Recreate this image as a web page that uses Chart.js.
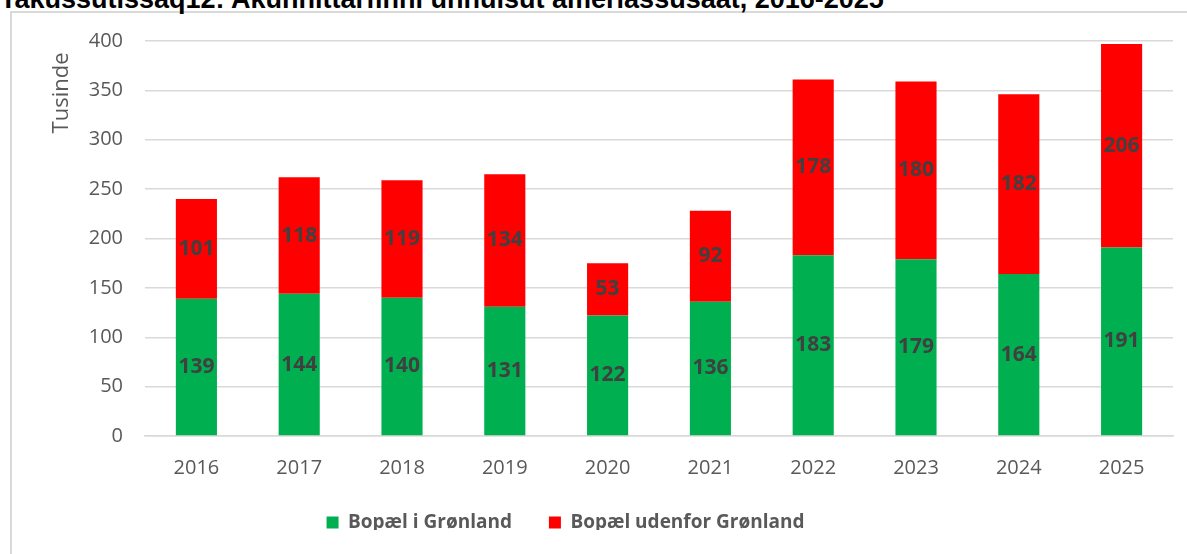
<!DOCTYPE html>
<html>
<head>
<meta charset="utf-8">
<script src="https://cdn.jsdelivr.net/npm/chart.js@4.4.1/dist/chart.umd.min.js"></script>
<style>
  html, body { margin: 0; padding: 0; background: #fff; overflow: hidden; }
  body { width: 1187px; height: 554px; position: relative; }
  #heading {
    position: absolute; left: 0; top: -14px; margin: 0;
    font: bold 27px/27px "Liberation Sans", Arial, sans-serif; color: #000;
    white-space: nowrap;
  }
  #frame {
    position: absolute; left: 10px; top: 11px; width: 1250px; height: 600px;
    border: 2px solid #d9d9d9; box-sizing: border-box;
  }
  #myChart { position: absolute; left: 0; top: 0; }
</style>
</head>
<body>
<div id="frame"></div>
<div id="heading">Takussutissaq12: Akunnittarfinni unnuisut amerlassusaat, 2016-2025</div>
<canvas id="myChart" width="1187" height="554"></canvas>
<script>
// Chart data (tusinde)
const years = ['2016', '2017', '2018', '2019', '2020', '2021', '2022', '2023', '2024', '2025'];
const inGreenland = [139, 144, 140, 131, 122, 136, 183, 179, 164, 191];
const outsideGreenland = [101, 118, 119, 134, 53, 92, 178, 180, 182, 206];
const seriesNames = ['Bopæl i Grønland', 'Bopæl udenfor Grønland'];

const grey = '#595959';

// Draws the value in the middle of each bar segment
const segmentLabels = {
  id: 'segmentLabels',
  afterDatasetsDraw(chart) {
    const ctx = chart.ctx;
    ctx.save();
    ctx.font = 'bold 21px "Open Sans"';
    ctx.fillStyle = '#404040';
    ctx.textAlign = 'center';
    ctx.textBaseline = 'middle';
    chart.data.datasets.forEach((ds, i) => {
      chart.getDatasetMeta(i).data.forEach((bar, j) => {
        ctx.fillText(ds.data[j], bar.x, (bar.y + bar.base) / 2);
      });
    });
    ctx.restore();
  }
};

// Legend sits left of the plot centre and a bit higher in the original
const legendShift = {
  id: 'legendShift',
  afterUpdate(chart) {
    const lg = chart.legend;
    lg.left -= 21;
    lg.right -= 21;
    lg.top -= 24;
    lg.bottom -= 24;
    lg.adjustHitBoxes();
  }
};

const data = {
  labels: years,
  datasets: [{
    label: seriesNames[0],
    data: inGreenland,
    backgroundColor: '#00b050',
    barPercentage: 0.8,
    categoryPercentage: 0.5
  }, {
    label: seriesNames[1],
    data: outsideGreenland,
    backgroundColor: '#ff0000',
    barPercentage: 0.8,
    categoryPercentage: 0.5
  }]
};

const options = {
  responsive: false,
  animation: false,
  layout: { padding: { left: 0, right: 14, top: 41, bottom: 0 } },
  plugins: {
    legend: {
      position: 'bottom',
      maxHeight: 54,
      labels: {
        boxWidth: 12,
        boxHeight: 12,
        padding: 37,
        color: grey,
        font: { family: 'Open Sans', size: 19, weight: 'bold' }
      }
    },
    tooltip: { enabled: false }
  },
  scales: {
    x: {
      stacked: true,
      grid: { display: false, drawTicks: false },
      border: { color: '#d9d9d9', width: 1.5 },
      ticks: { color: grey, padding: 20, font: { family: 'Open Sans', size: 20 } }
    },
    y: {
      stacked: true,
      min: 0,
      max: 400,
      afterFit(scale) { scale.width = 145; },
      grid: { color: '#d9d9d9', lineWidth: 1.5, drawTicks: false },
      border: { display: false },
      ticks: { stepSize: 50, color: grey, padding: 22, font: { family: 'Open Sans', size: 20 } },
      title: {
        display: true,
        text: 'Tusinde  ',
        align: 'end',
        color: grey,
        padding: { top: 49 },
        font: { family: 'Open Sans', size: 22 }
      }
    }
  }
};

const ctx = document.getElementById('myChart').getContext('2d');
const myChart = new Chart(ctx, {
  type: 'bar',
  data: data,
  options: options,
  plugins: [segmentLabels, legendShift]
});
</script>
</body>
</html>
